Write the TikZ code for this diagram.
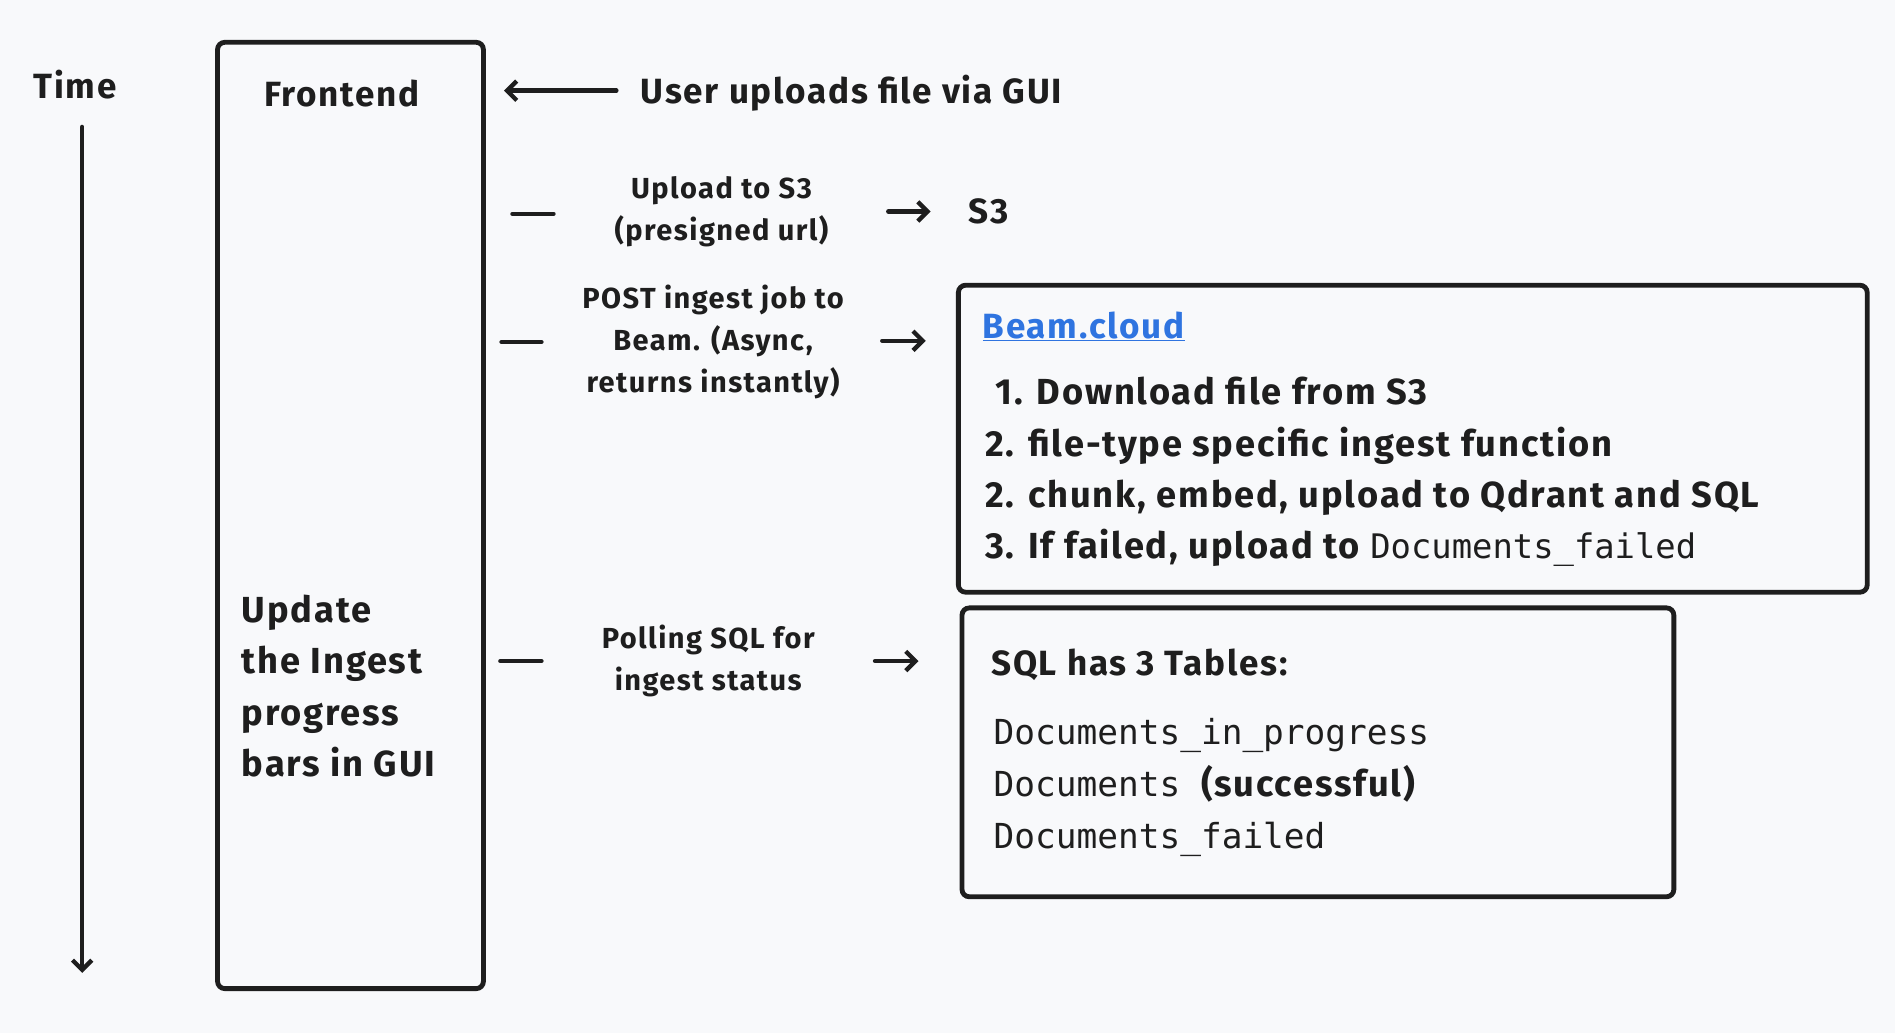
\documentclass[tikz,border=0pt]{standalone}
\usepackage{fontspec}
\setmainfont{Fira Sans}[LetterSpace=5]
\setmonofont{DejaVu Sans Mono}
\usetikzlibrary{arrows.meta}
\definecolor{bg}{HTML}{F8F9FB}
\definecolor{ink}{HTML}{1E1E1E}
\definecolor{link}{HTML}{2F74E0}
\begin{document}
\begin{tikzpicture}[x=1pt,y=-1pt,
  box/.style={draw=ink,line width=4pt,rounded corners=6pt},
  arr/.style={draw=ink,line width=3.6pt,line cap=round,-{Straight Barb[length=8pt,width=16pt,line width=3.6pt]}},
  tick/.style={draw=ink,line width=3.6pt,line cap=round},
  big/.style={font=\bfseries\fontsize{29}{34}\selectfont,text=ink,inner sep=0pt},
  lab/.style={font=\bfseries\fontsize{24}{35}\selectfont,text=ink,align=center,inner sep=0pt},
  txt/.style={font=\bfseries\fontsize{30}{42.5}\selectfont,text=ink,align=left,inner sep=0pt,anchor=north west}]
\fill[bg] (0,0) rectangle (1568,855);
\useasboundingbox (0,0) rectangle (1568,855);
\node[big] (time) at (62,70) {Time};
\coordinate (t1) at (68,105); \coordinate (t2) at (68,805);
\draw[arr] (t1) -- (t2);
\draw[box] (180,35) rectangle (400,818);
\node[big] (fe) at (283,77) {Frontend};
\node[big,anchor=west] (user) at (530,77) {User uploads file via GUI};
\coordinate (u1) at (510,75); \coordinate (u2) at (417,75);
\draw[arr] (u1) -- (u2);
% S3
\coordinate (a1) at (424,177); \coordinate (a2) at (458,177);
\draw[tick] (a1) -- (a2);
\node[lab] (up) at (597,175) {Upload to S3\\(presigned url)};
\coordinate (a3) at (735,175); \coordinate (a4) at (770,175);
\draw[arr] (a3) -- (a4);
\node[big] (s3) at (818,175) {S3};
% Beam
\coordinate (b1) at (415,283); \coordinate (b2) at (448,283);
\draw[tick] (b1) -- (b2);
\node[lab] (post) at (590,283) {POST ingest job to\\Beam. (Async,\\returns instantly)};
\coordinate (b3) at (730,282); \coordinate (b4) at (766,282);
\draw[arr] (b3) -- (b4);
\draw[box] (793,236) rectangle (1545,490);
\node[big,anchor=west,text=link] (beam) at (813,270) {\underline{Beam.cloud}};
\node[txt] (list) at (815,312) {\ 1. Download file from S3\\2. file-type specific ingest function\\2. chunk, embed, upload to Qdrant and SQL\\3. If failed, upload to {\mdseries\ttfamily\fontsize{28}{42.5}\selectfont Documents\_failed}};
% SQL
\node[txt] (upd) at (200,492) {Update\\the Ingest\\progress\\bars in GUI};
\coordinate (c1) at (414,547); \coordinate (c2) at (448,547);
\draw[tick] (c1) -- (c2);
\node[lab] (poll) at (586,547) {Polling SQL for\\ingest status};
\coordinate (c3) at (724,547); \coordinate (c4) at (760,547);
\draw[arr] (c3) -- (c4);
\draw[box] (796,503) rectangle (1385,742);
\node[big,anchor=west] (sqlh) at (820,550) {SQL has 3 Tables:};
\node[txt,font=\ttfamily\fontsize{28.5}{43}\selectfont] (tabs) at (822,594) {Documents\_in\_progress\\Documents {\rmfamily\bfseries\fontsize{30}{43}\selectfont(successful)}\\Documents\_failed};
\end{tikzpicture}
\end{document}
